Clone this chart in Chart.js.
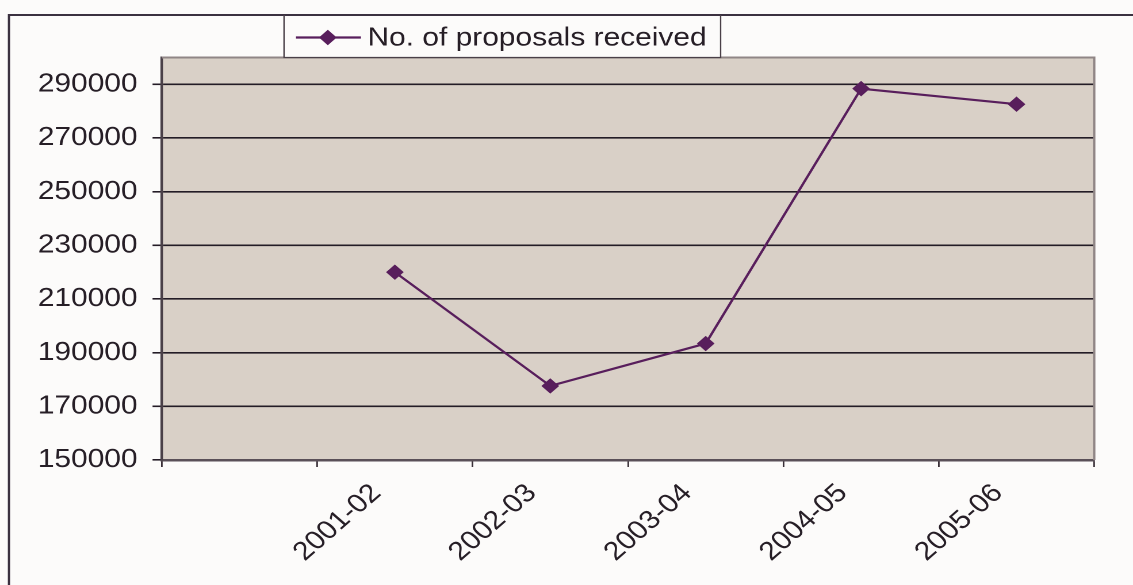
<!DOCTYPE html>
<html>
<head>
<meta charset="utf-8">
<script src="https://cdn.jsdelivr.net/npm/chart.js@4.4.1/dist/chart.umd.min.js"></script>
<style>
  html, body { margin: 0; padding: 0; background: #fcfbfa; overflow: hidden; }
  /* the chart is laid out on a narrower canvas and widened to the full page */
  #wrap { width: 985px; height: 585px; transform: scaleX(1.15025); transform-origin: 0 0; }
</style>
</head>
<body>
<div id="wrap"><canvas id="chart" width="985" height="585"></canvas></div>
<script>
// Years (the first slot is an empty category before 2001-02)
const categories = ['', '2001-02', '2002-03', '2003-04', '2004-05', '2005-06'];
// Proposals received per year
const proposalsReceived = [null, 220000, 177600, 193400, 288400, 282600];
// Value axis
const yTickValues = [150000, 170000, 190000, 210000, 230000, 250000, 270000, 290000];
const yMin = 150000;
const yMax = 300000;
const seriesName = 'No. of proposals received';

const FONT = "'Liberation Sans', Arial, sans-serif";
const TEXT = '#261e26';
const LINE = '#581e5c';

// Outer frame, plot background and plot edges
const framePlugin = {
  id: 'frame',
  beforeDraw(chart) {
    const { ctx, chartArea: a } = chart;
    ctx.save();
    ctx.fillStyle = '#fcfbfa';
    ctx.fillRect(0, 0, chart.width, chart.height);
    ctx.strokeStyle = '#3b3140';
    ctx.lineWidth = 2;
    ctx.beginPath();
    ctx.moveTo(7.8, chart.height + 2);
    ctx.lineTo(7.8, 15);
    ctx.lineTo(chart.width + 2, 15);
    ctx.stroke();
    ctx.fillStyle = '#d9d0c7';
    ctx.fillRect(a.left, a.top, a.right - a.left, a.bottom - a.top);
    ctx.restore();
  },
  afterDatasetsDraw(chart) {
    const { ctx, chartArea: a } = chart;
    ctx.save();
    ctx.strokeStyle = '#908686';
    ctx.lineWidth = 2;
    ctx.beginPath();
    ctx.moveTo(a.left, a.top);
    ctx.lineTo(a.right, a.top);
    ctx.lineTo(a.right, a.bottom);
    ctx.stroke();
    ctx.restore();
  }
};

// Boxed legend: line with a diamond marker, then the series name
const legendPlugin = {
  id: 'boxLegend',
  afterDraw(chart) {
    const { ctx } = chart;
    const ds = chart.data.datasets[0];
    const x0 = 246.9, x1 = 626.5, y0 = 15, y1 = 57.5;
    const cy = 37.5;
    ctx.save();
    ctx.fillStyle = '#fcfbfa';
    ctx.fillRect(x0, y0 + 1, x1 - x0, y1 - y0 - 1);
    ctx.strokeStyle = '#4a4048';
    ctx.lineWidth = 1.2;
    ctx.beginPath();
    ctx.moveTo(x0, y0);
    ctx.lineTo(x0, y1);
    ctx.lineTo(x1, y1);
    ctx.lineTo(x1, y0);
    ctx.stroke();
    ctx.strokeStyle = ds.borderColor;
    ctx.lineWidth = ds.borderWidth;
    ctx.beginPath();
    ctx.moveTo(257.3, cy);
    ctx.lineTo(313.8, cy);
    ctx.stroke();
    ctx.fillStyle = ds.pointBackgroundColor;
    ctx.strokeStyle = ds.pointBorderColor;
    ctx.lineWidth = 1;
    Chart.helpers.drawPoint(ctx, { pointStyle: 'rectRot', radius: ds.pointRadius, borderWidth: 1 }, 285.0, cy);
    ctx.fillStyle = TEXT;
    ctx.font = '26px ' + FONT;
    ctx.textBaseline = 'middle';
    ctx.textAlign = 'left';
    ctx.fillText(ds.label, 319.5, cy + 1);
    ctx.restore();
  }
};

new Chart(document.getElementById('chart'), {
  type: 'line',
  data: {
    labels: categories,
    datasets: [{
      label: seriesName,
      data: proposalsReceived,
      borderColor: LINE,
      backgroundColor: LINE,
      borderWidth: 2.2,
      pointStyle: 'rectRot',
      pointRadius: 7,
      pointBackgroundColor: LINE,
      pointBorderColor: LINE,
      pointBorderWidth: 1,
      tension: 0,
      spanGaps: false
    }]
  },
  options: {
    responsive: false,
    devicePixelRatio: 2,
    animation: false,
    layout: { padding: { top: 57.5, right: 33.7, left: 0, bottom: 0 } },
    plugins: { legend: { display: false }, tooltip: { enabled: false } },
    scales: {
      x: {
        type: 'category',
        offset: true,
        afterFit(scale) { scale.height = 125; },
        grid: {
          offset: true,
          drawOnChartArea: false,
          drawTicks: true,
          tickLength: 7,
          color: '#3a3038',
          lineWidth: 1.4
        },
        border: { display: true, color: '#5a5058', width: 2.5 },
        ticks: {
          autoSkip: false,
          minRotation: 45,
          maxRotation: 45,
          padding: 11,
          labelOffset: -16,
          color: TEXT,
          font: { family: FONT, size: 26 }
        }
      },
      y: {
        min: yMin,
        max: yMax,
        afterFit(scale) { scale.width = 140.6; },
        afterBuildTicks(scale) { scale.ticks = yTickValues.map(v => ({ value: v })); },
        grid: {
          color: '#241c26',
          lineWidth: 1.6,
          tickLength: 8,
          drawTicks: true
        },
        border: { display: true, color: '#4a4048', width: 2.2 },
        ticks: {
          padding: 13,
          color: TEXT,
          font: { family: FONT, size: 26 },
          callback: v => String(v)
        }
      }
    }
  },
  plugins: [framePlugin, legendPlugin]
});
</script>
</body>
</html>
